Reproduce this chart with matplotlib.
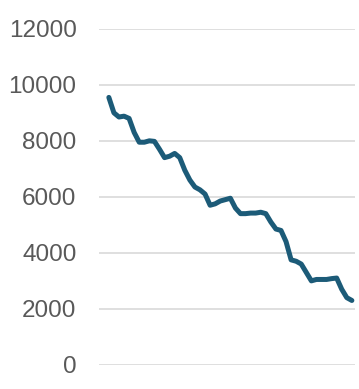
import matplotlib
matplotlib.use("Agg")
import matplotlib.pyplot as plt

# values, one per step
values = [9550, 9000, 8850, 8880, 8800, 8300, 7950, 7950, 8000, 7980,
          7700, 7400, 7450, 7550, 7400, 6950, 6600, 6350, 6250, 6100,
          5700, 5750, 5850, 5900, 5950, 5600, 5400, 5400, 5420, 5420,
          5450, 5400, 5100, 4850, 4800, 4400, 3750, 3700, 3600, 3300,
          3000, 3050, 3050, 3050, 3080, 3100, 2700, 2400, 2300]
days = list(range(len(values)))
yticks = [0, 2000, 4000, 6000, 8000, 10000, 12000]

plt.rcParams['font.family'] = ['Liberation Sans', 'DejaVu Sans']

fig = plt.figure(figsize=(3.59, 3.89), dpi=100)
ax = fig.add_axes([0.275, 0.062, 0.715, 0.864])

ax.plot(days, values, color='#1c5b78', linewidth=3.6, solid_joinstyle='round',
        solid_capstyle='round')

ax.set_ylim(0, 12000)
ax.set_xlim(-2, len(values) - 0.3)
ax.set_yticks(yticks)
ax.set_yticklabels([str(t) for t in yticks])
ax.set_xticks([])
ax.yaxis.grid(True, color='#d9d9d9', linewidth=1.2)
ax.set_axisbelow(True)
for s in ax.spines.values():
    s.set_visible(False)
ax.tick_params(axis='y', length=0, pad=16, labelsize=17.5, labelcolor='#595959')

fig.savefig('out.png', dpi=100)
